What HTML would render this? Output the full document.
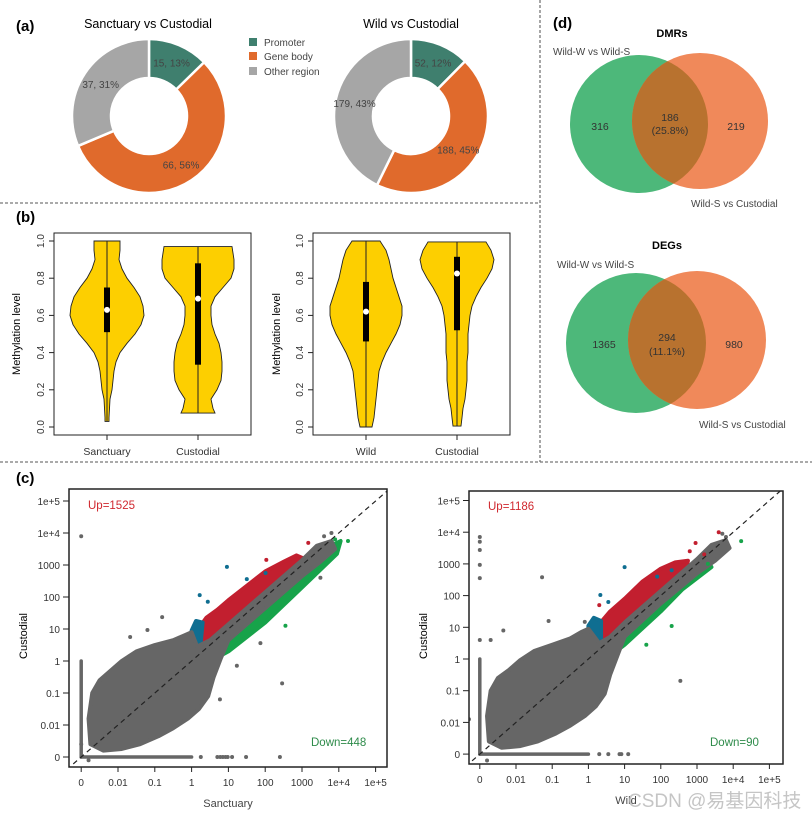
<!DOCTYPE html>
<html><head><meta charset="utf-8">
<style>
html,body{margin:0;padding:0;background:#fff;}
svg{display:block;font-family:"Liberation Sans",Arial,sans-serif;}
</style></head>
<body>
<svg id="fig" width="812" height="817" viewBox="0 0 812 817" xmlns="http://www.w3.org/2000/svg">
<line x1="0" y1="203" x2="540" y2="203" stroke="#777" stroke-width="1.3" stroke-dasharray="3,2"/>
<line x1="540" y1="0" x2="540" y2="462" stroke="#777" stroke-width="1.3" stroke-dasharray="3,2"/>
<line x1="0" y1="462" x2="812" y2="462" stroke="#777" stroke-width="1.3" stroke-dasharray="3,2"/>
<text x="16" y="31" font-size="15" font-weight="bold">(a)</text>
<text x="16" y="222" font-size="15" font-weight="bold">(b)</text>
<text x="16" y="483" font-size="15" font-weight="bold">(c)</text>
<text x="553" y="28" font-size="15" font-weight="bold">(d)</text>

<g id="pies">
<text x="148" y="28" font-size="12.5" text-anchor="middle">Sanctuary vs Custodial</text>
<text x="411" y="28" font-size="12.5" text-anchor="middle">Wild vs Custodial</text>
<g>
<rect x="249" y="38" width="8" height="8" fill="#3f7f6e"/>
<text x="264" y="46" font-size="10" fill="#444">Promoter</text>
<rect x="249" y="52" width="8" height="8" fill="#e06a2c"/>
<text x="264" y="60" font-size="10" fill="#444">Gene body</text>
<rect x="249" y="67" width="8" height="8" fill="#a6a6a6"/>
<text x="264" y="75" font-size="10" fill="#444">Other region</text>
</g>
</g>

<g id="violins"></g>
<g id="scatters"></g>

<g id="venn">
<defs>
<clipPath id="clipG1"><circle cx="639" cy="124" r="69"/></clipPath>
<clipPath id="clipG2"><circle cx="636" cy="343" r="70"/></clipPath>
</defs>
<text x="672" y="37" font-size="11" font-weight="bold" text-anchor="middle">DMRs</text>
<circle cx="639" cy="124" r="69" fill="#4db87a"/>
<circle cx="700" cy="121" r="68" fill="#f0895a"/>
<circle cx="700" cy="121" r="68" fill="#b8722f" clip-path="url(#clipG1)"/>
<text x="553" y="55" font-size="10" fill="#444">Wild-W vs Wild-S</text>
<text x="691" y="207" font-size="10" fill="#444">Wild-S vs Custodial</text>
<text x="600" y="130" font-size="10.5" fill="#333" text-anchor="middle">316</text>
<text x="670" y="121" font-size="10.5" fill="#333" text-anchor="middle">186</text>
<text x="670" y="134" font-size="10.5" fill="#333" text-anchor="middle">(25.8%)</text>
<text x="736" y="130" font-size="10.5" fill="#333" text-anchor="middle">219</text>

<text x="667" y="249" font-size="11" font-weight="bold" text-anchor="middle">DEGs</text>
<circle cx="636" cy="343" r="70" fill="#4db87a"/>
<circle cx="697" cy="340" r="69" fill="#f0895a"/>
<circle cx="697" cy="340" r="69" fill="#b8722f" clip-path="url(#clipG2)"/>
<text x="557" y="268" font-size="10" fill="#444">Wild-W vs Wild-S</text>
<text x="699" y="428" font-size="10" fill="#444">Wild-S vs Custodial</text>
<text x="604" y="348" font-size="10.5" fill="#333" text-anchor="middle">1365</text>
<text x="667" y="341" font-size="10.5" fill="#333" text-anchor="middle">294</text>
<text x="667" y="355" font-size="10.5" fill="#333" text-anchor="middle">(11.1%)</text>
<text x="734" y="348" font-size="10.5" fill="#333" text-anchor="middle">980</text>
</g>
<text x="628" y="807" font-size="19" fill="#bbb" fill-opacity="0.85">CSDN @<tspan font-family="'Noto Sans CJK SC',sans-serif">易基因科技</tspan></text>
</svg>

<script>
var NS = "http://www.w3.org/2000/svg";
function mk(parent, tag, attrs){ var e=document.createElementNS(NS,tag); for(var k in attrs) e.setAttribute(k,attrs[k]); parent.appendChild(e); return e; }

/* ---------- (a) donut data ---------- */
var pieCategories = ["Promoter","Gene body","Other region"];
var pieLeftValues = [15, 66, 37];
var pieLeftPct = ["13%","56%","31%"];
var pieRightValues = [52, 188, 179];
var pieRightPct = ["12%","45%","43%"];
var pieColors = ["#3f7f6e","#e06a2c","#a6a6a6"];

function donut(cx, cy, vals, pcts, side){
  var g=document.getElementById('pies');
  var tot=vals.reduce(function(a,b){return a+b;},0), a0=0, R=77, r=38;
  for(var i=0;i<vals.length;i++){
    var a1=a0+vals[i]/tot*2*Math.PI;
    var p=function(rad,a){return [cx+rad*Math.sin(a), cy-rad*Math.cos(a)];};
    var P1=p(R,a0),P2=p(R,a1),P3=p(r,a1),P4=p(r,a0), lg=(a1-a0)>Math.PI?1:0;
    var d="M"+P1+"A"+R+","+R+" 0 "+lg+" 1 "+P2+"L"+P3+"A"+r+","+r+" 0 "+lg+" 0 "+P4+"Z";
    var s=mk(g,'path',{d:d,fill:pieColors[i],stroke:"#fff","stroke-width":2.5});
    
    
    var am=(a0+a1)/2, L=p(58,am);
    var t=mk(g,'text',{x:L[0],y:L[1]+4,"font-size":10,fill:"#444","text-anchor":"middle"});
    t.textContent=vals[i]+", "+pcts[i];
    
    
    a0=a1;
  }
}
donut(149,116,pieLeftValues,pieLeftPct,'left');
donut(411,116,pieRightValues,pieRightPct,'right');

/* ---------- (b) violin data ---------- */
var violinCategories = [["Sanctuary","Custodial"],["Wild","Custodial"]];
var yTicksViolin = [0.0,0.2,0.4,0.6,0.8,1.0];
var v1Levels = [0.03,0.05,0.1,0.15,0.2,0.25,0.3,0.35,0.4,0.45,0.5,0.55,0.6,0.65,0.7,0.75,0.8,0.85,0.9,0.95,1.0];
var v1Width  = [2,2,2.5,3,5,6,7,9,13,20,28,34,37,36,33,27,20,15,12,13,13];
var v2Levels = [0.075,0.1,0.15,0.2,0.25,0.3,0.35,0.4,0.45,0.5,0.55,0.6,0.65,0.7,0.75,0.8,0.85,0.9,0.97];
var v2Width  = [17,15,13,19,23,24,24,23,21,17,14,13,13,17,25,33,36,36,34];
var v3Levels = [0,0.05,0.1,0.15,0.2,0.25,0.3,0.35,0.4,0.45,0.5,0.55,0.6,0.65,0.7,0.75,0.8,0.85,0.9,0.95,1.0];
var v3Width  = [6,8,9,10,11,12,13,16,20,25,30,34,36,36,33,30,27,25,23,20,14];
var v4Levels = [0.005,0.05,0.1,0.15,0.2,0.25,0.3,0.35,0.4,0.45,0.5,0.55,0.6,0.65,0.7,0.75,0.8,0.85,0.9,0.95,0.995];
var v4Width  = [4,5,6,8,9,10,10,10,11,11,11,12,13,15,19,24,30,35,37,34,29];
var boxQ1 = [0.51,0.335,0.46,0.52];
var boxQ3 = [0.75,0.88,0.78,0.915];
var boxMedian = [0.63,0.69,0.62,0.825];

(function(){
  var g=document.getElementById('violins');
  var panels=[{x0:54,x1:251,cx:[107,198],ytx:20},{x0:313,x1:510,cx:[366,457],ytx:280}];
  var yTop=233,yBot=435;
  function yS(v){return 427 - v*186;}
  var vl=[[v1Levels,v1Width],[v2Levels,v2Width],[v3Levels,v3Width],[v4Levels,v4Width]];
  panels.forEach(function(P,pi){
    var b=mk(g,'rect',{x:P.x0,y:yTop,width:P.x1-P.x0,height:yBot-yTop,fill:"none",stroke:"#222","stroke-width":1});
    
    
    yTicksViolin.forEach(function(t){
      var y=yS(t);
      var l=mk(g,'line',{x1:P.x0-5,y1:y,x2:P.x0,y2:y,stroke:"#222"});
      
      
      var tx=mk(g,'text',{x:P.x0-10,y:y,"font-size":10,fill:"#333","text-anchor":"middle",transform:"rotate(-90 "+(P.x0-10)+" "+y+")"});
      tx.textContent=t.toFixed(1);
      
      
    });
    var yt=mk(g,'text',{x:P.ytx,y:334,"font-size":11,"text-anchor":"middle",transform:"rotate(-90 "+P.ytx+" 334)"});
    yt.textContent="Methylation level";
    
    
    P.cx.forEach(function(cx,ci){
      var idx=pi*2+ci, L=vl[idx][0], W=vl[idx][1];
      var left=[],right=[];
      for(var k=0;k<L.length;k++){ right.push((cx+W[k])+","+yS(L[k])); left.unshift((cx-W[k])+","+yS(L[k])); }
      var v=mk(g,'polygon',{points:right.concat(left).join(" "),fill:"#fdcf00",stroke:"#222","stroke-width":0.9});
      
      
      var w=mk(g,'line',{x1:cx,y1:yS(L[0]),x2:cx,y2:yS(L[L.length-1]),stroke:"#222","stroke-width":1});
      
      
      var bx=mk(g,'rect',{x:cx-3,y:yS(boxQ3[idx]),width:6,height:yS(boxQ1[idx])-yS(boxQ3[idx]),fill:"#000"});
      
      
      var md=mk(g,'circle',{cx:cx,cy:yS(boxMedian[idx]),r:3,fill:"#fff"});
      
      
      var xt=mk(g,'line',{x1:cx,y1:yBot,x2:cx,y2:yBot+5,stroke:"#222"});
      
      
      var xl=mk(g,'text',{x:cx,y:455,"font-size":10.5,fill:"#333","text-anchor":"middle"});
      xl.textContent=violinCategories[pi][ci];
      
      
    });
  });
})();

/* ---------- (c) scatter data (log10 units; 0 plotted at -3) ---------- */
var scatterTickLabels = ["0","0.01","0.1","1","10","100","1000","1e+4","1e+5"];
var scatterTickLogs = [-3,-2,-1,0,1,2,3,4,5];
var s1GrayCloud = [[-2.75,-2.6],[-2.8,-1.8],[-2.7,-1.0],[-2.5,-0.6],[-2.2,-0.3],[-1.9,0.0],[-1.5,0.3],[-1.0,0.5],[-0.5,0.65],[-0.2,0.8],[0,0.9],[0.15,0.45],[0.5,0.65],[1,1.15],[2,2.15],[3,3.15],[3.4,3.6],[3.8,3.75],[3.9,3.5],[3.5,3.1],[3,2.65],[2,1.65],[1,0.65],[0.8,0.1],[0.6,-0.5],[0.45,-1.1],[0.2,-1.5],[-0.1,-1.8],[-0.5,-2.1],[-0.9,-2.35],[-1.4,-2.6],[-1.9,-2.75],[-2.4,-2.8]];
var s1RedCloud = [[0.15,0.35],[0.15,0.95],[0.4,1.35],[0.7,1.6],[1,1.9],[1.5,2.35],[2,2.8],[2.5,3.1],[2.85,3.3],[3.05,3.2],[3,3.1],[2,2.15],[1,1.15],[0.4,0.55]];
var s1BlueCloud = [[0,0.25],[0,0.95],[0.12,1.25],[0.3,1.2],[0.25,0.6],[0.12,0.3]];
var s1GreenCloud = [[0.5,0.2],[1,0.85],[2,1.85],[3,2.85],[3.7,3.55],[4.05,3.75],[3.95,3.35],[3,2.3],[2,1.2],[1,0.3],[0.6,0.05]];
var s1GrayPts = [[-3,3.9],[-0.8,1.37],[-1.67,0.75],[-1.2,0.97],[2.46,-0.7],[0.77,-1.2],[3.5,2.6],[1.87,0.56],[1.23,-0.15],[3.8,4.0],[3.6,3.9],[-3,-2.6],[-2.8,-3.1]];
var s1BluePts = [[0.96,2.94],[0.22,2.06],[0.44,1.85],[1.5,2.56],[2.01,2.75]];
var s1RedPts = [[2.03,3.16],[3.17,3.69]];
var s1GreenPts = [[2.55,1.1],[4.25,3.75],[3.9,3.8]];
var s1ZeroRowX = [0.25,0.7,0.78,0.85,0.92,0.98,1.1,1.48,2.4];
var s1ZeroStripEnd = [0, 0];

var s2GrayCloud = [[-2.75,-2.6],[-2.8,-1.8],[-2.7,-1.0],[-2.5,-0.6],[-2.2,-0.35],[-1.9,-0.05],[-1.5,0.25],[-1.0,0.45],[-0.5,0.65],[-0.2,0.85],[0,0.95],[0.3,0.5],[0.6,0.7],[1,1.15],[2,2.15],[3,3.15],[3.4,3.6],[3.8,3.75],[3.9,3.5],[3.5,3.1],[3,2.7],[2,1.75],[1,0.7],[0.8,0.1],[0.6,-0.5],[0.45,-1.1],[0.2,-1.5],[-0.1,-1.8],[-0.5,-2.1],[-0.9,-2.35],[-1.4,-2.6],[-1.9,-2.75],[-2.4,-2.8]];
var s2RedCloud = [[0.3,0.5],[0.3,1.1],[0.6,1.5],[1,1.9],[1.5,2.45],[2,2.85],[2.4,3.05],[2.75,3.1],[2.7,2.85],[2,2.15],[1,1.15],[0.45,0.6]];
var s2BlueCloud = [[0,0.3],[0,1.05],[0.15,1.3],[0.35,1.2],[0.35,0.6],[0.15,0.35]];
var s2GreenCloud = [[0.5,0.25],[1,0.85],[2,1.85],[2.8,2.6],[3.3,3.1],[3.4,2.9],[2.6,2.2],[2,1.5],[1,0.45],[0.6,0.1]];
var s2GrayPts = [[-3,3.85],[-3,3.7],[-3,3.44],[-3,2.97],[-3,2.55],[-1.28,2.58],[2.54,-0.69],[-3,0.6],[-2.7,0.6],[-0.1,1.17],[-1.1,1.2],[-2.35,0.9],[3.7,3.95],[3.8,3.85],[-3.3,-1.9],[-2.8,-3.2]];
var s2BluePts = [[1,2.9],[0.33,2.02],[0.55,1.8],[1.9,2.6],[2.3,2.8]];
var s2RedPts = [[3.6,4.0],[2.96,3.66],[2.8,3.4],[3.2,3.3],[0.3,1.7]];
var s2GreenPts = [[4.22,3.72],[2.3,1.04],[3.3,3.0],[1.6,0.45]];
var s2ZeroRowX = [0.3,0.55,0.86,0.91,1.1];
var s2ZeroStripEnd = [0, 0];

var scatterPanels = [
  {x0:69,x1:387,y0:489,y1:767,xAt:118,xd:36.8,yAt:661,yd:32,xt:"Sanctuary",yTitleX:27,
   up:"Up=1525",down:"Down=448",upX:88,upY:509,dnX:311,dnY:746,
   gray:s1GrayCloud,red:s1RedCloud,blue:s1BlueCloud,green:s1GreenCloud,
   gp:s1GrayPts,bp:s1BluePts,rp:s1RedPts,grp:s1GreenPts,zr:s1ZeroRowX,ze:s1ZeroStripEnd},
  {x0:469,x1:783,y0:491,y1:764,xAt:516,xd:36.2,yAt:659,yd:31.7,xt:"Wild",yTitleX:427,
   up:"Up=1186",down:"Down=90",upX:488,upY:510,dnX:710,dnY:746,
   gray:s2GrayCloud,red:s2RedCloud,blue:s2BlueCloud,green:s2GreenCloud,
   gp:s2GrayPts,bp:s2BluePts,rp:s2RedPts,grp:s2GreenPts,zr:s2ZeroRowX,ze:s2ZeroStripEnd}
];

(function(){
  var g=document.getElementById('scatters');
  scatterPanels.forEach(function(P,pi){
    function X(u){return P.xAt+(u+2)*P.xd;}
    function Y(u){return P.yAt-u*P.yd;}
    var cid='clipS'+pi;
    var cp=mk(g,'clipPath',{id:cid}); mk(cp,'rect',{x:P.x0,y:P.y0,width:P.x1-P.x0,height:P.y1-P.y0});
    var pg=mk(g,'g',{"clip-path":"url(#"+cid+")"});
    
    
    function cloud(arr,col,name){
      var pts=arr.map(function(p){return X(p[0])+","+Y(p[1]);}).join(" ");
      var e=mk(pg,'polygon',{points:pts,fill:col,stroke:col,"stroke-width":4,"stroke-linejoin":"round"});
      
      
    }
    function dots(arr,col,name){
      arr.forEach(function(p){
        var c=mk(pg,'circle',{cx:X(p[0]),cy:Y(p[1]),r:2,fill:col});
        
        
      });
    }
    var sv=mk(pg,'line',{x1:X(-3),y1:Y(-3),x2:X(-3),y2:Y(P.ze[1]),stroke:"#666","stroke-width":3.5,"stroke-linecap":"round"});
    
    
    var sh=mk(pg,'line',{x1:X(-3),y1:Y(-3),x2:X(P.ze[0]),y2:Y(-3),stroke:"#666","stroke-width":3.5,"stroke-linecap":"round"});
    
    
    dots(P.zr.map(function(x){return [x,-3];}),"#666",'zero-row-point');
    cloud(P.green,"#17a34a",'down-cloud');
    cloud(P.red,"#c21f2f",'up-cloud');
    cloud(P.blue,"#0f6e91",'up-edge-cloud');
    cloud(P.gray,"#666666",'gray-cloud');
    dots(P.gp,"#666",'gray-point');
    dots(P.bp,"#0f6e91",'blue-point');
    dots(P.rp,"#c21f2f",'red-point');
    dots(P.grp,"#17a34a",'green-point');
    var dl=mk(pg,'line',{x1:X(-3.4),y1:Y(-3.4),x2:X(5.5),y2:Y(5.5),stroke:"#222","stroke-width":1.2,"stroke-dasharray":"5,4"});
    
    
    var fr=mk(g,'rect',{x:P.x0,y:P.y0,width:P.x1-P.x0,height:P.y1-P.y0,fill:"none",stroke:"#222","stroke-width":1.5});
    
    
    scatterTickLogs.forEach(function(u,i){
      var t=mk(g,'line',{x1:X(u),y1:P.y1,x2:X(u),y2:P.y1+5,stroke:"#222"});
      
      
      var tl=mk(g,'text',{x:X(u),y:P.y1+19,"font-size":10,fill:"#333","text-anchor":"middle"});
      tl.textContent=scatterTickLabels[i];
      
      
      var ty=mk(g,'line',{x1:P.x0-6,y1:Y(u),x2:P.x0,y2:Y(u),stroke:"#222"});
      
      
      var yl=mk(g,'text',{x:P.x0-9,y:Y(u)+4,"font-size":10,fill:"#333","text-anchor":"end"});
      yl.textContent=scatterTickLabels[i];
      
      
    });
    var xt=mk(g,'text',{x:(P.x0+P.x1)/2,y:P.y1+40,"font-size":11,fill:"#444","text-anchor":"middle"});
    xt.textContent=P.xt;
    
    
    var yt=mk(g,'text',{x:P.yTitleX,y:636,"font-size":11,"text-anchor":"middle",transform:"rotate(-90 "+P.yTitleX+" 636)"});
    yt.textContent="Custodial";
    
    
    var up=mk(g,'text',{x:P.upX,y:P.upY,"font-size":11.5,fill:"#d0282f"});
    up.textContent=P.up;
    
    
    var dn=mk(g,'text',{x:P.dnX,y:P.dnY,"font-size":11.5,fill:"#2e8b4a"});
    dn.textContent=P.down;
    
    
  });
})();
</script>
</body></html>
